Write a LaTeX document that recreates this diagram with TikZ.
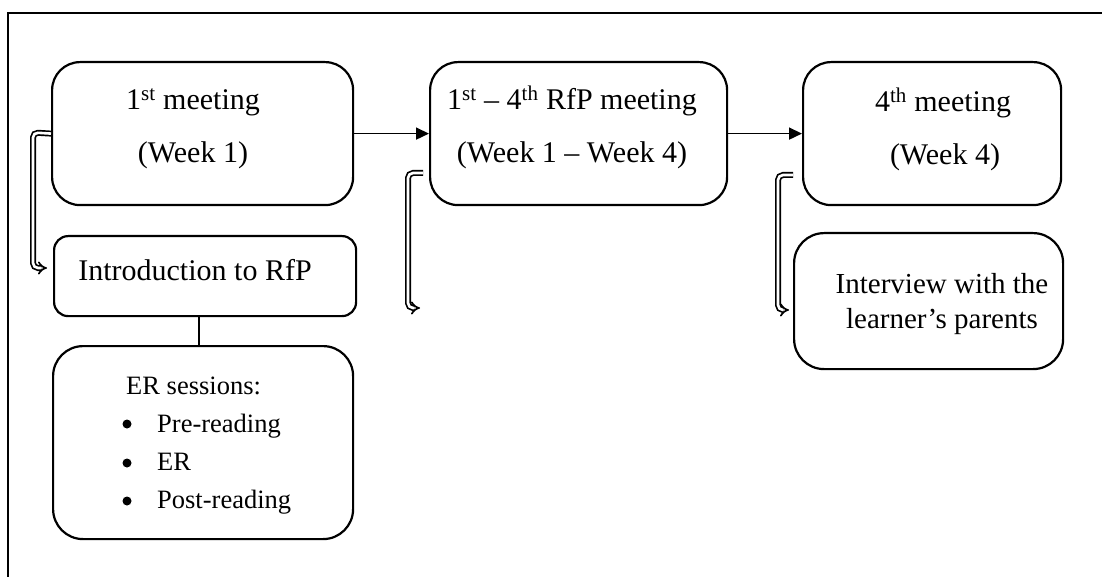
\documentclass[tikz,border=0pt]{standalone}
\usepackage{fontspec}
\setmainfont{Liberation Serif}
\usetikzlibrary{arrows.meta}
\begin{document}
\begin{tikzpicture}[x=1pt,y=-1pt,
  box/.style={draw,line width=2.2pt,rounded corners=28pt,inner sep=0pt,anchor=north west},
  txt/.style={anchor=base,inner sep=0pt,font=\fontsize{30}{36}\selectfont},
  etxt/.style={anchor=base west,inner sep=0pt,font=\fontsize{26.5}{32}\selectfont},
  bul/.style={circle,fill,inner sep=0pt,minimum size=9pt},
  arr/.style={draw,line width=1.6pt,-{Triangle[length=13pt,width=12pt]}},
  conn/.style={draw,line width=2pt},
  dbl/.style={draw,double,double distance=2.6pt,line width=1.7pt,rounded corners=5pt,-{Implies[scale=1.2]}}]
\useasboundingbox (0,0) rectangle (1102,577);
% frame
\coordinate (fbl) at (8,577);
\coordinate (ftl) at (8,13);
\coordinate (ftr) at (1102,13);
\draw[line width=2.2pt] (fbl) -- (ftl) -- (ftr);
% boxes
\node[box,minimum width=301pt,minimum height=143pt] (b1) at (51,61) {};
\node[box,minimum width=297pt,minimum height=143pt] (b2) at (429,61) {};
\node[box,minimum width=258pt,minimum height=143pt] (b3) at (802,61) {};
\node[box,rounded corners=14pt,minimum width=302pt,minimum height=80pt] (intro) at (53,235) {};
\node[box,rounded corners=30pt,minimum width=300pt,minimum height=193pt] (er) at (52,345) {};
\node[box,rounded corners=30pt,minimum width=269pt,minimum height=136pt] (iv) at (793,232) {};
% texts
\node[txt] (t1a) at (193,110) {1\textsuperscript{st} meeting};
\node[txt] (t1b) at (193,163) {(Week 1)};
\node[txt] (t2a) at (572,110) {1\textsuperscript{st} – 4\textsuperscript{th} RfP meeting};
\node[txt] (t2b) at (572,163) {(Week 1 – Week 4)};
\node[txt] (t3a) at (943,112) {4\textsuperscript{th} meeting};
\node[txt] (t3b) at (945,165) {(Week 4)};
\node[txt] (tin) at (195,280) {Introduction to RfP};
\node[txt,font=\fontsize{29}{35}\selectfont] (tiv1) at (942,293) {Interview with the};
\node[txt,font=\fontsize{29}{35}\selectfont] (tiv2) at (942,328) {learner’s parents};
\node[etxt] (ers) at (126,394) {ER sessions:};
\node[bul] (bu1) at (127,424) {};
\node[bul] (bu2) at (127,463) {};
\node[bul] (bu3) at (127,501) {};
\node[etxt] (er1) at (157,432) {Pre-reading};
\node[etxt] (er2) at (157,470) {ER};
\node[etxt] (er3) at (157,508) {Post-reading};
% connectors
\draw[arr] (b1.east) -- (b2.west);
\draw[arr] (b2.east) -- (b3.west);
\draw[conn] ([xshift=-6pt]intro.south) -- ([xshift=-4pt]er.north);
% double arrows
\coordinate (d1e) at (47,268);
\draw[dbl] (b1.west) -- (33,132.5) -- (33,268) -- (d1e);
\coordinate (d2s) at (423,173);
\coordinate (d2e) at (420,308);
\draw[dbl] (d2s) -- (408,173) -- (408,308) -- (d2e);
\coordinate (d3s) at (793,175);
\coordinate (d3e) at (789,310);
\draw[dbl] (d3s) -- (778,175) -- (778,310) -- (d3e);
\end{tikzpicture}
\end{document}
